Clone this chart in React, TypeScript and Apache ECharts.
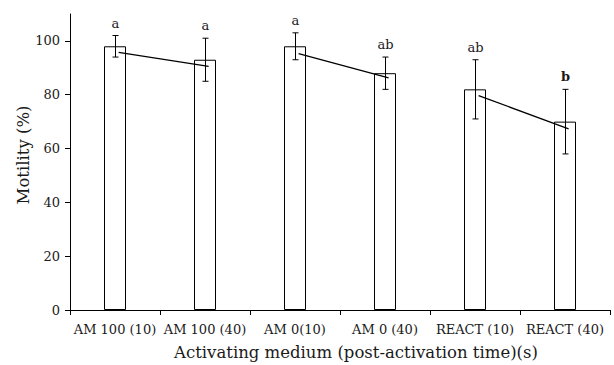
import React, { useEffect, useRef } from "react";
import * as echarts from "echarts";

const categories = ["AM 100 (10)", "AM 100 (40)", "AM 0(10)", "AM 0 (40)", "REACT (10)", "REACT (40)"];
const motility = [98, 93, 98, 88, 82, 70];
const errorLow = [94, 85, 93, 82, 71, 58];
const errorHigh = [102, 101, 103, 94, 93, 82];
const letters = ["a", "a", "a", "ab", "ab", "b"];
const boldLetters = [false, false, false, false, false, true];
const trendStart = [95.7, 95.3, 79.7];
const trendEnd = [90.5, 86.3, 67.3];
const yTicks = [0, 20, 40, 60, 80, 100];

const FONT = "'DejaVu Serif', serif";
const INK = "#1a1a1a";

export default function App() {
  const ref = useRef<HTMLDivElement>(null);
  useEffect(() => {
    if (!ref.current) return;
    const chart = echarts.init(ref.current, undefined, { renderer: "svg" });
    const trendSeries = trendStart.map((s, k) => ({
      type: "line",
      xAxisIndex: 1,
      yAxisIndex: 0,
      symbol: "none",
      silent: true,
      lineStyle: { color: "#000", width: 1.3 },
      data: [
        [2 * k + 0.54, s],
        [2 * k + 1.54, trendEnd[k]],
      ],
      z: 4,
    }));
    chart.setOption({
      animation: false,
      grid: { left: 70, right: 4, top: 14, bottom: 55 },
      xAxis: [
        {
          type: "category",
          data: categories,
          boundaryGap: true,
          axisLine: { lineStyle: { color: "#000", width: 1 } },
          axisTick: { show: true, length: 5, alignWithLabel: false, lineStyle: { color: "#000" } },
          axisLabel: { interval: 0, margin: 13, color: INK, fontFamily: FONT, fontSize: 13 },
          splitLine: { show: false },
        },
        { type: "value", min: 0, max: 6, show: false },
      ],
      yAxis: {
        type: "value",
        min: 0,
        max: 110,
        axisLine: { show: true, lineStyle: { color: "#000", width: 1 } },
        axisTick: { show: true, length: 5, customValues: yTicks, lineStyle: { color: "#000" } },
        axisLabel: { margin: 10, customValues: yTicks, color: INK, fontFamily: FONT, fontSize: 13 },
        splitLine: { show: false },
      },
      graphic: [
        {
          type: "text",
          x: 356,
          y: 352,
          style: {
            text: "Activating medium (post-activation time)(s)",
            align: "center",
            verticalAlign: "middle",
            fontFamily: FONT,
            fontSize: 16.5,
            fill: INK,
          },
        },
        {
          type: "text",
          x: 23,
          y: 155,
          rotation: Math.PI / 2,
          style: {
            text: "Motility (%)",
            align: "center",
            verticalAlign: "middle",
            fontFamily: FONT,
            fontSize: 16.5,
            fill: INK,
          },
        },
      ],
      series: [
        {
          type: "bar",
          data: motility,
          barWidth: 22,
          itemStyle: { color: "#fff", borderColor: "#000", borderWidth: 1 },
          z: 2,
        },
        {
          type: "custom",
          z: 5,
          data: categories.map((_, i) => [i, errorLow[i], errorHigh[i]]),
          encode: { x: 0, y: [1, 2] },
          renderItem: (params: any, api: any) => {
            const i = api.value(0);
            const hi = api.coord([i, api.value(2)]);
            const lo = api.coord([i, api.value(1)]);
            const x = Math.round(hi[0]) + 0.5;
            const ls = { stroke: "#000", lineWidth: 1 };
            return {
              type: "group",
              children: [
                { type: "line", shape: { x1: x, y1: hi[1], x2: x, y2: lo[1] }, style: ls },
                { type: "line", shape: { x1: x - 3, y1: hi[1], x2: x + 3, y2: hi[1] }, style: ls },
                { type: "line", shape: { x1: x - 3, y1: lo[1], x2: x + 3, y2: lo[1] }, style: ls },
                {
                  type: "text",
                  style: {
                    text: letters[i],
                    x: x,
                    y: hi[1] - 6,
                    align: "center",
                    verticalAlign: "bottom",
                    fontFamily: FONT,
                    fontSize: 13,
                    fontWeight: boldLetters[i] ? "bold" : "normal",
                    fill: INK,
                  },
                },
              ],
            };
          },
        },
        ...trendSeries,
      ],
    });
    return () => chart.dispose();
  }, []);
  return (
    <div
      ref={ref}
      style={{ position: "absolute", left: 0, top: 0, width: 614, height: 365, background: "#fff" }}
    />
  );
}
